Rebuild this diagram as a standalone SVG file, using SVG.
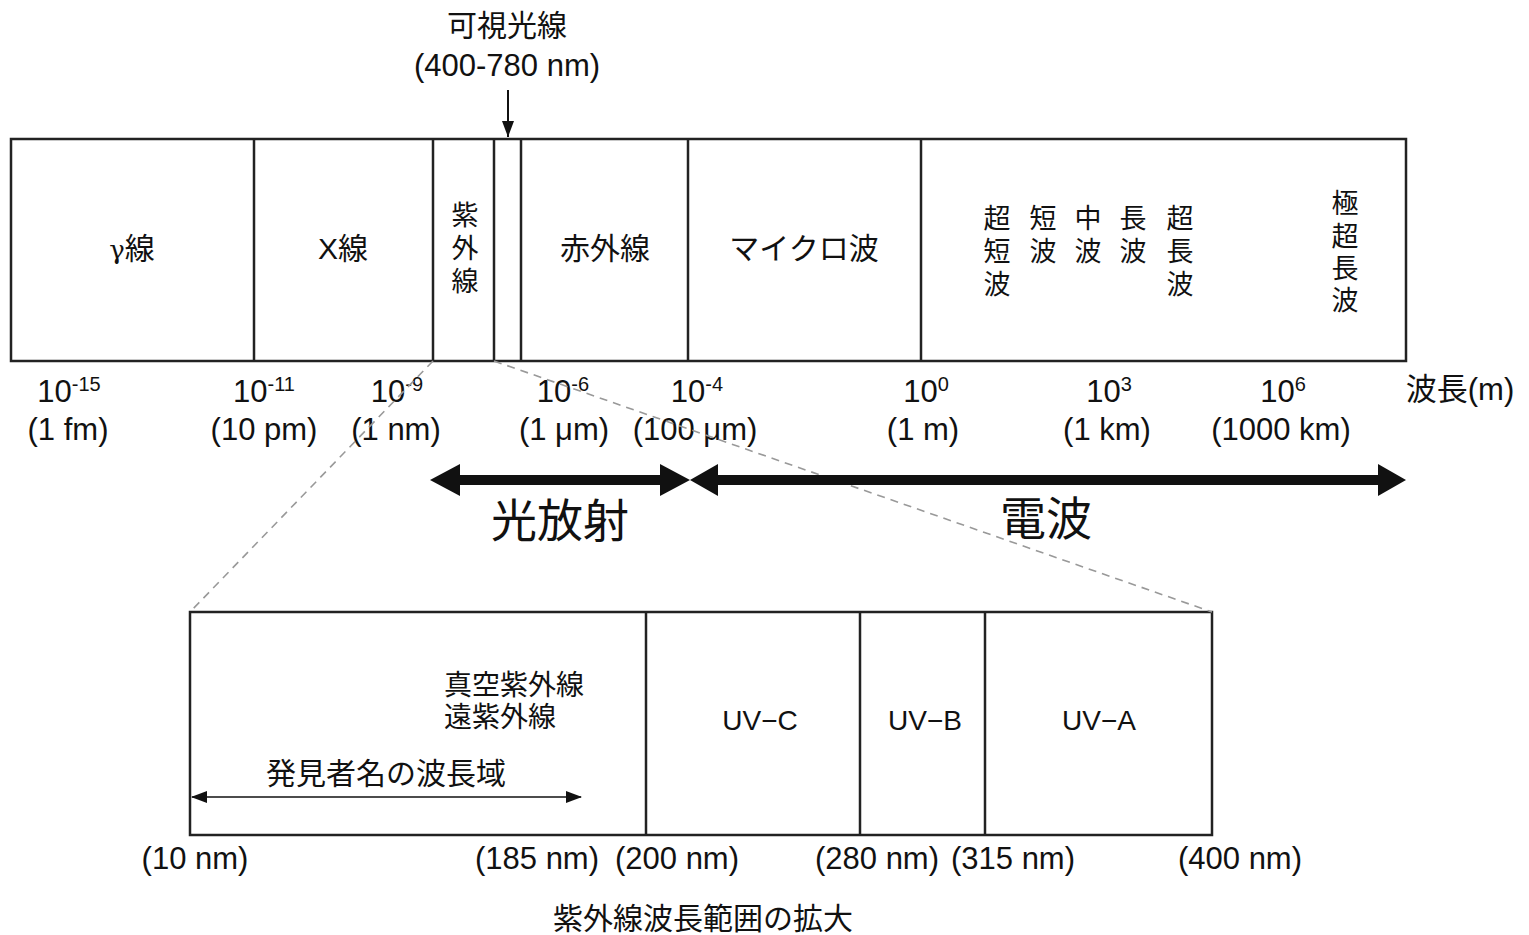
<svg xmlns="http://www.w3.org/2000/svg" width="1529" height="935" viewBox="0 0 1529 935">
<style>
text{font-family:"Liberation Sans","Noto Sans CJK JP",sans-serif;fill:#111}
.j{font-family:"Noto Sans CJK JP","Liberation Sans",sans-serif}
.m{text-anchor:middle}
.box{fill:#fff;stroke:#222;stroke-width:2.5}
.div{stroke:#222;stroke-width:2.5}
.dash{stroke:#999;stroke-width:1.6;stroke-dasharray:8 6;fill:none}
.t{font-size:31px}
.e{font-size:20px}
.lab{font-size:30px}
.v{font-size:27px}
.big{font-size:46px}
</style>
<defs>
<marker id="ah" markerWidth="12" markerHeight="16" refX="6" refY="16" orient="0" markerUnits="userSpaceOnUse">
<path d="M0,0 L12,0 L6,16 Z" fill="#111"/>
</marker>
<marker id="ahs" markerWidth="16" markerHeight="12" refX="15" refY="6" orient="auto-start-reverse" markerUnits="userSpaceOnUse">
<path d="M0,0 L16,6 L0,12 Z" fill="#111"/>
</marker>
</defs>
<rect width="1529" height="935" fill="#fff"/>

<g id="spectrum">
<rect class="box" x="11" y="139" width="1395" height="222"/>
<line class="div" x1="254" y1="139" x2="254" y2="361"/>
<line class="div" x1="433" y1="139" x2="433" y2="361"/>
<line class="div" x1="494" y1="139" x2="494" y2="361"/>
<line class="div" x1="521" y1="139" x2="521" y2="361"/>
<line class="div" x1="688" y1="139" x2="688" y2="361"/>
<line class="div" x1="921" y1="139" x2="921" y2="361"/>
</g>

<g id="gamma"><text class="lab m" x="132" y="259"><tspan style="font-family:'DejaVu Serif',serif;font-size:26px">γ</tspan><tspan class="j">線</tspan></text></g>
<g id="xray"><text class="lab m" x="343" y="259">X線</text></g>
<g id="uv"><text class="v m j"><tspan x="465" y="225">紫</tspan><tspan x="465" y="258">外</tspan><tspan x="465" y="291">線</tspan></text></g>
<g id="visible"><text class="lab m j" x="507" y="36">可視光線</text><text class="m" x="507" y="76" style="font-size:31px">(400-780 nm)</text></g>
<g id="ir"><text class="lab m j" x="605" y="259">赤外線</text></g>
<g id="microwave"><text class="lab m j" x="804" y="259">マイクロ波</text></g>
<g id="vhf"><text class="v m j"><tspan x="997" y="228">超</tspan><tspan x="997" y="261">短</tspan><tspan x="997" y="294">波</tspan></text></g>
<g id="sw"><text class="v m j"><tspan x="1043" y="228">短</tspan><tspan x="1043" y="261">波</tspan></text></g>
<g id="mw"><text class="v m j"><tspan x="1088" y="228">中</tspan><tspan x="1088" y="261">波</tspan></text></g>
<g id="lw"><text class="v m j"><tspan x="1133" y="228">長</tspan><tspan x="1133" y="261">波</tspan></text></g>
<g id="vlf"><text class="v m j"><tspan x="1180" y="228">超</tspan><tspan x="1180" y="261">長</tspan><tspan x="1180" y="294">波</tspan></text></g>
<g id="elf"><text class="v m j"><tspan x="1345" y="213">極</tspan><tspan x="1345" y="246">超</tspan><tspan x="1345" y="278">長</tspan><tspan x="1345" y="310">波</tspan></text></g>

<g id="ticks">
<text class="t m" x="69" y="402">10<tspan class="e" dy="-11">-15</tspan></text>
<text class="t m" x="68" y="440">(1 fm)</text>
<text class="t m" x="264" y="402">10<tspan class="e" dy="-11">-11</tspan></text>
<text class="t m" x="264" y="440">(10 pm)</text>
<text class="t m" x="397" y="402">10<tspan class="e" dy="-11">-9</tspan></text>
<text class="t m" x="396" y="440">(1 nm)</text>
<text class="t m" x="563" y="402">10<tspan class="e" dy="-11">-6</tspan></text>
<text class="t m" x="564" y="440">(1 μm)</text>
<text class="t m" x="697" y="402">10<tspan class="e" dy="-11">-4</tspan></text>
<text class="t m" x="695" y="440">(100 μm)</text>
<text class="t m" x="926" y="402">10<tspan class="e" dy="-11">0</tspan></text>
<text class="t m" x="923" y="440">(1 m)</text>
<text class="t m" x="1109" y="402">10<tspan class="e" dy="-11">3</tspan></text>
<text class="t m" x="1107" y="440">(1 km)</text>
<text class="t m" x="1283" y="402">10<tspan class="e" dy="-11">6</tspan></text>
<text class="t m" x="1281" y="440">(1000 km)</text>
<text class="t m" x="1460" y="400">波長(m)</text>
</g>

<g id="optical"><text class="big m j" x="560" y="537">光放射</text></g>
<g id="radio"><text class="big m j" x="1046" y="535">電波</text></g>

<g id="uvbox">
<rect class="box" x="190" y="612" width="1022" height="223"/>
<line class="div" x1="646" y1="612" x2="646" y2="835"/>
<line class="div" x1="860" y1="612" x2="860" y2="835"/>
<line class="div" x1="985" y1="612" x2="985" y2="835"/>
</g>
<g id="vuv"><text class="j" x="444" y="695" style="font-size:28px">真空紫外線</text><text class="j" x="444" y="727" style="font-size:28px">遠紫外線</text></g>
<g id="discoverer"><text class="lab j m" x="386" y="784">発見者名の波長域</text></g>
<g id="uvc"><text class="m" x="760" y="730" style="font-size:28px">UV−C</text></g>
<g id="uvb"><text class="m" x="925" y="730" style="font-size:28px">UV−B</text></g>
<g id="uva"><text class="m" x="1099" y="730" style="font-size:28px">UV−A</text></g>

<g id="uvticks">
<text class="t m" x="195" y="869">(10 nm)</text>
<text class="t m" x="537" y="869">(185 nm)</text>
<text class="t m" x="677" y="869">(200 nm)</text>
<text class="t m" x="877" y="869">(280 nm)</text>
<text class="t m" x="1013" y="869">(315 nm)</text>
<text class="t m" x="1240" y="869">(400 nm)</text>
</g>
<g id="caption"><text class="lab j m" x="703" y="929">紫外線波長範囲の拡大</text></g>

<g id="connectors">
<line class="dash" x1="433" y1="361" x2="190" y2="612"/>
<line class="dash" x1="494" y1="361" x2="1212" y2="612"/>
<line x1="508" y1="90" x2="508" y2="137" stroke="#111" stroke-width="2" marker-end="url(#ah)"/>
<polygon points="430,480 460,464 460,475 660,475 660,464 690,480 660,496 660,485 460,485 460,496" fill="#111"/>
<polygon points="690,480 718,464 718,475 1378,475 1378,464 1406,480 1378,496 1378,485 718,485 718,496" fill="#111"/>
<line x1="192" y1="797" x2="581" y2="797" stroke="#111" stroke-width="1.6" marker-start="url(#ahs)" marker-end="url(#ahs)"/>
</g>
</svg>
